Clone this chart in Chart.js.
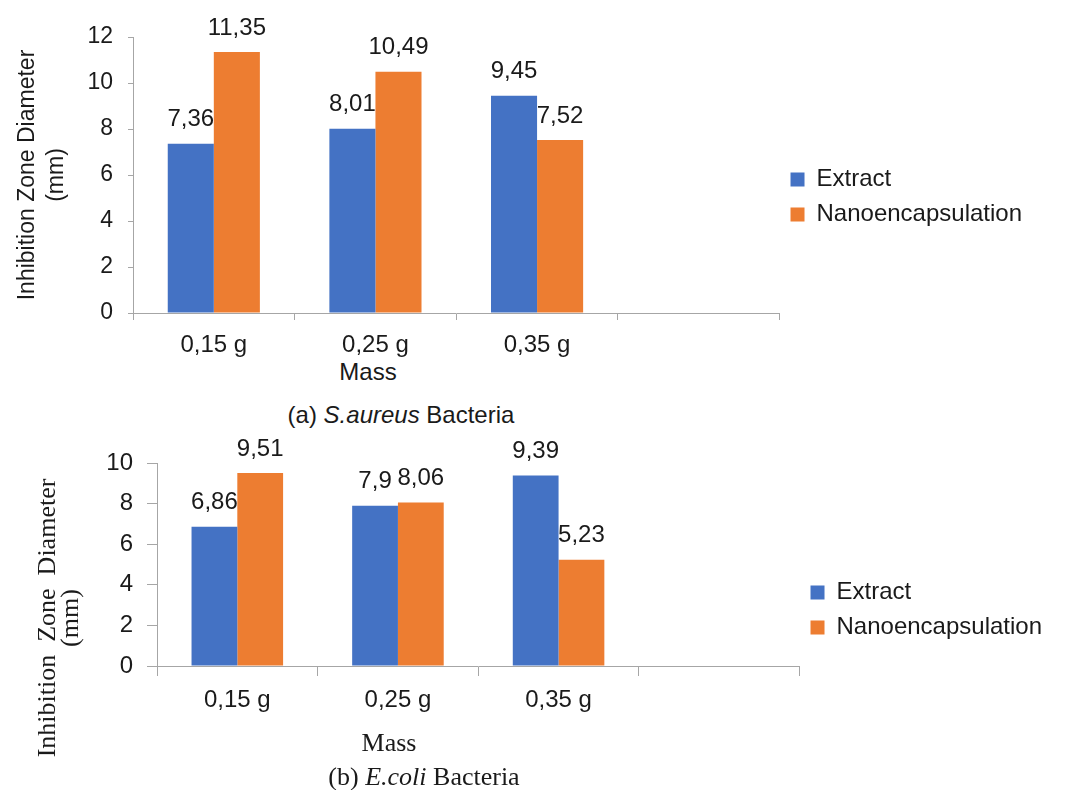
<!DOCTYPE html>
<html>
<head>
<meta charset="utf-8">
<script src="https://cdn.jsdelivr.net/npm/chart.js"></script>
<style>
    body { margin: 0; background: #fff; }
    #page { position: relative; width: 1072px; height: 790px; overflow: hidden; }
    canvas { position: absolute; left: 0; }
    .txt { position: absolute; width: 400px; text-align: center; color: #1a1a1a; white-space: pre; }
    .sans { font-family: "Liberation Sans", Arial, sans-serif; font-size: 24px; line-height: 26px; }
    .serif { font-family: "Liberation Serif", "Times New Roman", serif; font-size: 26px; line-height: 26px; }
    #ytitleB { position: absolute; left: -102px; top: 595px; width: 320px; height: 46px; line-height: 23px;
        text-align: center; transform: rotate(-90deg); font-family: "Liberation Serif", "Times New Roman", serif;
        font-size: 26px; color: #1a1a1a; white-space: pre; }
</style>
</head>
<body>
<div id="page">
    <canvas id="aureusChart" width="1072" height="357" style="top:0px"></canvas>
    <div class="txt sans" style="left:168px; top:359px">Mass</div>
    <div class="txt sans" style="left:201px; top:402px">(a) <i>S.aureus</i> Bacteria</div>

    <canvas id="coliChart" width="1072" height="337" style="top:420px"></canvas>
    <div id="ytitleB">Inhibition  Zone  Diameter
(mm)</div>
    <div class="txt serif" style="left:189px; top:730px">Mass</div>
    <div class="txt serif" style="left:224px; top:764px">(b) <i>E.coli</i> Bacteria</div>
</div>

<script>
// data
const massLabels = ['0,15 g', '0,25 g', '0,35 g', ''];
const aureusExtract = [7.36, 8.01, 9.45, null];
const aureusNano = [11.35, 10.49, 7.52, null];
const coliExtract = [6.86, 7.9, 9.39, null];
const coliNano = [9.51, 8.06, 5.23, null];
const seriesNames = ['Extract', 'Nanoencapsulation'];
const aureusMax = 12;
const coliMax = 10;
const tickStep = 2;

const blue = '#4472C4';
const orange = '#ED7D31';
const axisGray = '#A6A6A6';
const textColor = '#1a1a1a';

Chart.defaults.font.family = '"Liberation Sans", Arial, sans-serif';
Chart.defaults.color = textColor;

// values written above the bars, with a comma decimal
const barValues = {
    id: 'barValues',
    afterDatasetsDraw(chart) {
        const ctx = chart.ctx;
        ctx.save();
        ctx.font = '24px "Liberation Sans", Arial, sans-serif';
        ctx.fillStyle = textColor;
        ctx.textAlign = 'center';
        ctx.textBaseline = 'middle';
        chart.data.datasets.forEach((ds, i) => {
            chart.getDatasetMeta(i).data.forEach((bar, j) => {
                if (ds.data[j] == null) return;
                ctx.fillText(String(ds.data[j]).replace('.', ','), bar.x, bar.y - 24);
            });
        });
        ctx.restore();
    }
};

function makeChart(id, extract, nano, yMax, opts) {
    const ctx = document.getElementById(id);
    return new Chart(ctx, {
        type: 'bar',
        data: {
            labels: massLabels,
            datasets: [
                { label: seriesNames[0], data: extract, backgroundColor: blue },
                { label: seriesNames[1], data: nano, backgroundColor: orange }
            ]
        },
        options: {
            responsive: false,
            animation: false,
            categoryPercentage: 0.57,
            barPercentage: 1,
            layout: { padding: { top: opts.padTop, right: opts.padRight, left: 0, bottom: 0 } },
            plugins: {
                tooltip: { enabled: false },
                legend: {
                    position: 'right',
                    labels: {
                        boxWidth: 14,
                        boxHeight: 14,
                        padding: 11,
                        color: textColor,
                        font: { size: 24 }
                    }
                }
            },
            scales: {
                x: {
                    offset: true,
                    grid: { offset: true, drawOnChartArea: false, tickLength: opts.xTick, color: axisGray },
                    border: { color: axisGray },
                    ticks: { font: { size: 24 }, padding: opts.xPad, color: textColor, maxRotation: 0 },
                    afterFit: s => { s.height = opts.xHeight; }
                },
                y: {
                    min: 0,
                    max: yMax,
                    ticks: { stepSize: tickStep, font: { size: opts.yFont }, padding: opts.yPad, color: textColor },
                    grid: { drawOnChartArea: false, tickLength: opts.yTick, color: axisGray },
                    border: { color: axisGray },
                    title: opts.yTitle,
                    afterFit: s => { s.width = opts.yWidth; }
                }
            }
        },
        plugins: [barValues]
    });
}

makeChart('aureusChart', aureusExtract, aureusNano, aureusMax, {
    padTop: 37, padRight: 40, xTick: 7, xPad: 11, xHeight: 44,
    yFont: 23, yPad: 15, yTick: 5, yWidth: 133,
    yTitle: {
        display: true,
        text: ['Inhibition Zone Diameter', '(mm)'],
        font: { size: 23, lineHeight: 1.26 },
        color: textColor,
        padding: { top: 13, bottom: 0 }
    }
});

makeChart('coliChart', coliExtract, coliNano, coliMax, {
    padTop: 43, padRight: 20, xTick: 10, xPad: 10, xHeight: 91,
    yFont: 24, yPad: 14, yTick: 10, yWidth: 157,
    yTitle: { display: false }
});
</script>
</body>
</html>
